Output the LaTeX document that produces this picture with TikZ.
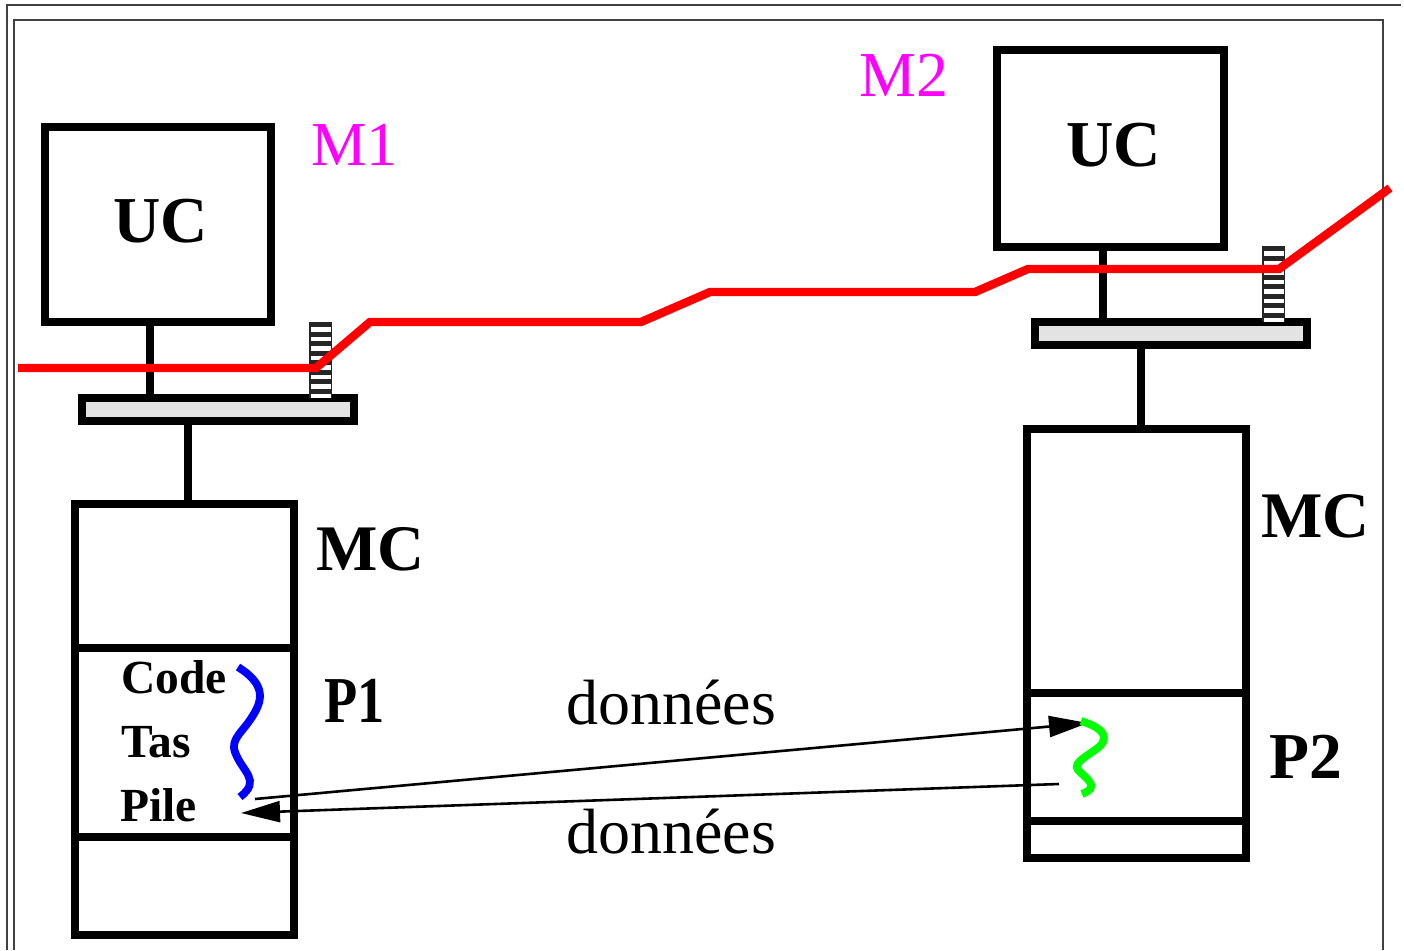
\documentclass[tikz,border=0pt]{standalone}
\usepackage{fontspec}
\setmainfont{Liberation Serif}
\usetikzlibrary{arrows.meta}
\definecolor{puremagenta}{rgb}{1,0,1}
\tikzset{
  x=1pt,y=-1pt,
  heavy/.style={draw=black,line width=8.4pt,line join=miter},
  barbox/.style={heavy,fill=black!11},
  net/.style={draw=red,line width=8.4pt,line join=miter},
  thread/.style={line width=7.8pt},
  flow/.style={draw=black,line width=2.6pt,-{Triangle[length=39pt,width=21pt]}},
  frameline/.style={draw=black!75,line width=1.2pt},
  big/.style={font=\fontsize{65.5}{66}\selectfont\bfseries,inner sep=0pt,anchor=base west},
  mclab/.style={font=\fontsize{65}{66}\selectfont\bfseries,inner sep=0pt,anchor=base west},
  mid/.style={font=\fontsize{47.5}{48}\selectfont\bfseries,inner sep=0pt,anchor=base west},
  lab/.style={font=\fontsize{64}{64}\selectfont,inner sep=0pt,anchor=base west},
  mach/.style={text=puremagenta,inner sep=0pt,anchor=base west},
}
\newcommand{\stripes}[2]{%
  \fill[black!85] (#1,#2) rectangle ++(23,76);
  \foreach \k in {0,...,7}{\fill[white]
     (#1+1.5,#2+5+9.5*\k) rectangle ++(20,4.6);}
}
\begin{document}
\begin{tikzpicture}
\useasboundingbox (0,0) rectangle (1404,950);
\draw[frameline] (7,950) -- (7,5) -- (1401,5);
\draw[frameline] (14,950) -- (14,20) -- (1383,20) -- (1383,950);

% machine M1
\draw[heavy] (45,127) rectangle (271,322);
\coordinate (uc1s) at (150,322); \coordinate (bar1n) at (150,398);
\draw[heavy] (uc1s) -- (bar1n);
\draw[barbox] (82,398) rectangle (354,421);
\coordinate (bar1s) at (188,421); \coordinate (mc1n) at (188,504);
\draw[heavy] (bar1s) -- (mc1n);
\draw[heavy] (75,504) rectangle (294,935);
\draw[heavy] (75,648) -- (294,648);
\draw[heavy] (75,837) -- (294,837);

% machine M2
\draw[heavy] (997,50) rectangle (1224,247);
\coordinate (uc2s) at (1103,247); \coordinate (bar2n) at (1103,322);
\draw[heavy] (uc2s) -- (bar2n);
\draw[barbox] (1035,322) rectangle (1307,345);
\coordinate (bar2s) at (1141,345); \coordinate (mc2n) at (1141,429);
\draw[heavy] (bar2s) -- (mc2n);
\draw[heavy] (1027,429) rectangle (1246,858);
\draw[heavy] (1027,693) -- (1246,693);
\draw[heavy] (1027,821) -- (1246,821);

% stripes
\stripes{309}{322}
\stripes{1262}{246}

% network
\draw[net] (18,368) -- (316,368) -- (370,322) -- (641,322) -- (710,292) -- (975,292) -- (1028,269) -- (1279,269) -- (1390,188);

% arrows
\coordinate (a1) at (255,799); \coordinate (a2) at (1088,723);
\coordinate (b1) at (1059,784); \coordinate (b2) at (241,813);
\draw[flow] (a1) -- (a2);
\draw[flow] (b1) -- (b2);

% threads
\draw[thread,draw=blue] (238,667) .. controls (262,682) and (264,696) .. (255,712)
  .. controls (244,732) and (230,738) .. (235,752) .. controls (242,772) and (262,780) .. (240,797);
\draw[thread,draw=green] (1081,721) .. controls (1100,727) and (1110,735) .. (1100,746)
  .. controls (1090,755) and (1072,762) .. (1078,770) .. controls (1088,780) and (1100,787) .. (1082,794);

% labels
\node[big] (t1) at (113,242) {UC};
\node[big] (t2) at (1066,166) {UC};
\node[mach,font=\fontsize{62.5}{64}\selectfont] (t3) at (311,165) {M1};
\node[mach,font=\fontsize{64}{64}\selectfont] (t4) at (859,96) {M2};
\node[mclab] (t5) at (316,570) {MC};
\node[mclab] (t6) at (1261,537) {MC};
\node[big] (t7) at (324,722) {\scalebox{0.83}[1]{P1}};
\node[big] (t8) at (1269,778) {P2};
\node[mid] (t9) at (121,693) {Code};
\node[mid] (t10) at (121,757) {Tas};
\node[mid] (t11) at (120,821) {Pile};
\node[lab] (t12) at (566,724) {données};
\node[lab] (t13) at (566,853) {données};
\end{tikzpicture}
\end{document}
